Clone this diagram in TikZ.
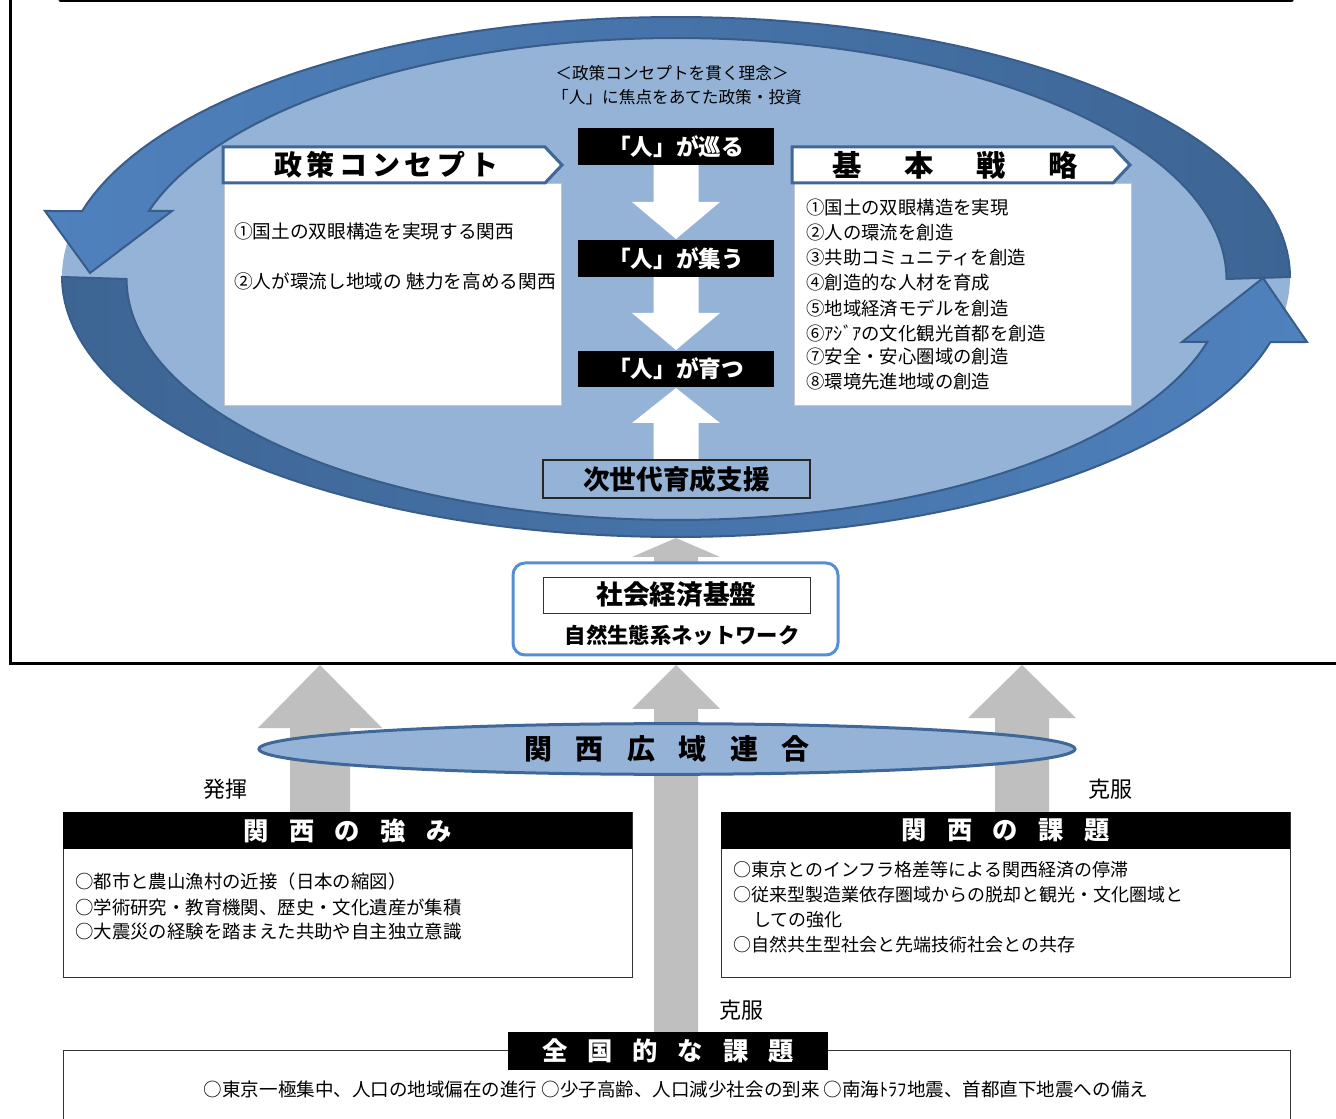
\documentclass[tikz,border=0pt]{standalone}
\usepackage{fontspec}
\setmainfont{Noto Sans CJK JP}
\usetikzlibrary{fit,shapes.geometric}
\definecolor{ellfill}{HTML}{95B3D7}
\definecolor{arcdark}{HTML}{3D6594}
\definecolor{arcmid}{HTML}{4F81BD}
\definecolor{arcline}{HTML}{385D8A}
\definecolor{hdrline}{HTML}{3F6797}
\definecolor{grayarr}{HTML}{BFBFBF}
\definecolor{rbox}{HTML}{558ED5}
\newcommand\varrow[7]{\fill[#1] ({#2-#6},#3) -- ({#2-#6},#5) -- ({#2-#7},#5) -- (#2,#4) -- ({#2+#7},#5) -- ({#2+#6},#5) -- ({#2+#6},#3) -- cycle;}
\tikzset{
  blk/.style={fill=black, inner sep=0pt},
  blktxt/.style={text=white, inner sep=0pt, font=\bfseries\fontsize{17}{20}\selectfont},
  hdrbar/.style={fill=black, inner sep=0pt},
  hdrtxt/.style={text=white, inner sep=0pt, font=\bfseries\fontsize{19}{22}\selectfont},
  bodytxt/.style={inner sep=0pt, anchor=west, font=\fontsize{13.8}{16}\selectfont},
  thinbox/.style={draw=black!80, line width=0.6pt, fill=white},
  lightbox/.style={draw=black!22, line width=0.6pt, fill=white, inner sep=0pt},
  arcband/.style={draw=arcline, line width=1.5pt},
  pentagon/.style={fill=white, draw=hdrline, line width=2.25pt},
  lbl/.style={inner sep=0pt, font=\fontsize{16.5}{19}\selectfont},
}
\begin{document}
\begin{tikzpicture}[x=0.75pt,y=-0.75pt]
\useasboundingbox (0,0) rectangle (1336,1119);
\fill[white] (0,0) rectangle (1336,1119);

% big ellipse fill
\fill[ellfill] (676,277) ellipse [x radius=460.5pt, y radius=195pt];

% top circular arrow (right tail -> left head)
\draw[arcband, left color=arcmid, right color=arcdark]
  plot[domain=0:165.3, samples=90] ({676+614*cos(\x)},{277-260*sin(\x)})
  -- (45,211) -- (90,273) -- (172,211)
  -- plot[domain=163.6:0, samples=90] ({676.5+550*cos(\x)},{279-241*sin(\x)}) -- cycle;
% bottom circular arrow (left tail -> right head)
\draw[arcband, left color=arcdark, right color=arcmid]
  plot[domain=180:345.5, samples=90] ({676+614*cos(\x)},{277-260*sin(\x)})
  -- (1307,342) -- (1263,278) -- (1182,342)
  -- plot[domain=344.9:180, samples=90] ({676.5+550*cos(\x)},{279-241*sin(\x)}) -- cycle;

% idea text
\node[inner sep=0pt, font=\fontsize{12.5}{15}\selectfont] (idea1) at (672,73) {＜政策コンセプトを貫く理念＞};
\node[inner sep=0pt, font=\fontsize{12.5}{15}\selectfont] (idea2) at (677,97) {「人」に焦点をあてた政策・投資};

% policy concept box
\node[lightbox, fit={(224,183) (561,405)}] (conbody) {};
\draw[pentagon] (223,147) -- (545,147) -- (562,165) -- (545,183) -- (223,183) -- cycle;
\node[inner sep=0pt, font=\bfseries\fontsize{21}{24}\selectfont] (conhdr) at (386,165)
  {政\hspace{3.5pt}策\hspace{3.5pt}コ\hspace{3.5pt}ン\hspace{3.5pt}セ\hspace{3.5pt}プ\hspace{3.5pt}ト};
\node[bodytxt, font=\fontsize{14}{16}\selectfont] (c1) at (234,231) {①国土の双眼構造を実現する関西};
\node[bodytxt, font=\fontsize{14}{16}\selectfont] (c2) at (234,281) {②人が環流し地域の 魅力を高める関西};

% basic strategy box
\node[lightbox, fit={(794,183) (1131,405)}] (strbody) {};
\draw[pentagon] (792,147) -- (1113,147) -- (1130,165) -- (1113,183) -- (792,183) -- cycle;
\node[inner sep=0pt, font=\bfseries\fontsize{22}{25}\selectfont] (strhdr) at (955,165)
  {基\hspace{32pt}本\hspace{32pt}戦\hspace{32pt}略};
\node[bodytxt] (s1) at (806,208) {①国土の双眼構造を実現};
\node[bodytxt] (s2) at (806,233) {②人の環流を創造};
\node[bodytxt] (s3) at (806,258) {③共助コミュニティを創造};
\node[bodytxt] (s4) at (806,283) {④創造的な人材を育成};
\node[bodytxt] (s5) at (806,308) {⑤地域経済モデルを創造};
\node[bodytxt] (s6) at (806,333) {⑥ｱｼﾞｱの文化観光首都を創造};
\node[bodytxt] (s7) at (806,357) {⑦安全・安心圏域の創造};
\node[bodytxt] (s8) at (806,382) {⑧環境先進地域の創造};

% central flow
\varrow{white}{676}{165}{239}{202}{22.5}{44}
\varrow{white}{676}{277}{350}{313}{22.5}{44}
\varrow{white}{676}{460}{388}{423}{22.5}{44}
\node[blk, fit={(578,128) (774,165)}] (b1) {};
\node[blktxt] (b1t) at (b1.center) {「人」が巡る};
\node[blk, fit={(578,240) (774,277)}] (b2) {};
\node[blktxt] (b2t) at (b2.center) {「人」が集う};
\node[blk, fit={(578,351) (774,387)}] (b3) {};
\node[blktxt] (b3t) at (b3.center) {「人」が育つ};
\node[fit={(543,460) (810,498)}, fill=ellfill, draw=black!85, line width=0.8pt, inner sep=0pt] (jisedai) {};
\node[inner sep=0pt, font=\bfseries\fontsize{20}{24}\selectfont] (jisedait) at (jisedai.center) {次世代育成支援};

% foundation
\varrow{grayarr}{676}{570}{538}{557}{22}{44}
\node[fit={(513,563) (838,655)}, draw=rbox, line width=2.25pt, fill=white, rounded corners=9pt, inner sep=0pt] (kiban) {};
\node[fit={(543,577) (810,613)}, thinbox, inner sep=0pt] (shakai) {};
\node[inner sep=0pt, font=\bfseries\fontsize{20}{24}\selectfont] (shakait) at (shakai.center) {社会経済基盤};
\node[inner sep=0pt, font=\bfseries\fontsize{16}{19}\selectfont] (shizen) at (682,635) {自然生態系ネットワーク};

% lower arrows
\varrow{grayarr}{320}{812}{665}{728}{30}{62}
\varrow{grayarr}{676}{1032}{665}{709}{22}{44}
\varrow{grayarr}{1022}{812}{665}{718}{27}{54}

% frame
\draw[line width=2.25pt] (10,0) -- (10,664) -- (1336,664);
\draw[line width=2.25pt, line cap=round] (60,1) -- (1292,1);

% Kansai union ellipse
\node[ellipse, minimum width=612pt, minimum height=38pt, inner sep=0pt, fill=ellfill, draw=hdrline, line width=2.25pt,
  font=\bfseries\fontsize{21}{24}\selectfont] (rengo) at (667,749)
  {関\hspace{17.7pt}西\hspace{17.7pt}広\hspace{17.7pt}域\hspace{17.7pt}連\hspace{17.7pt}合};

\node[lbl] (hakki) at (225,789) {発揮};
\node[lbl] (kokufuku1) at (1110,789) {克服};
\node[lbl] (kokufuku2) at (741,1010) {克服};

% strengths box
\node[thinbox, inner sep=0pt, fit={(63,812) (632,977)}] (strong) {};
\node[hdrbar, fit={(63,812) (632,849)}] (stronghdr) {};
\node[hdrtxt] (stronghdrt) at (stronghdr.center) {関\hspace{15.3pt}西\hspace{15.3pt}の\hspace{15.3pt}強\hspace{15.3pt}み};
\node[bodytxt] (k1) at (75,882) {○都市と農山漁村の近接（日本の縮図）};
\node[bodytxt] (k2) at (75,907) {○学術研究・教育機関、歴史・文化遺産が集積};
\node[bodytxt] (k3) at (75,932) {○大震災の経験を踏まえた共助や自主独立意識};

% issues box
\node[thinbox, inner sep=0pt, fit={(721,812) (1290,977)}] (issue) {};
\node[hdrbar, fit={(721,812) (1290,849)}] (issuehdr) {};
\node[hdrtxt] (issuehdrt) at (issuehdr.center) {関\hspace{15.3pt}西\hspace{15.3pt}の\hspace{15.3pt}課\hspace{15.3pt}題};
\node[bodytxt, font=\fontsize{13.5}{16}\selectfont] (i1) at (733,870) {○東京とのインフラ格差等による関西経済の停滞};
\node[bodytxt, font=\fontsize{13.5}{16}\selectfont] (i2) at (733,895) {○従来型製造業依存圏域からの脱却と観光・文化圏域と};
\node[bodytxt, font=\fontsize{13.5}{16}\selectfont] (i3) at (753,920) {しての強化};
\node[bodytxt, font=\fontsize{13.5}{16}\selectfont] (i4) at (733,945) {○自然共生型社会と先端技術社会との共存};

% national issues
\draw[line width=0.6pt, draw=black!80] (63,1125) -- (63,1050) -- (1290,1050) -- (1290,1125);
\node[hdrbar, fit={(508,1032) (828,1070)}] (nathdr) {};
\node[hdrtxt] (nathdrt) at (nathdr.center) {全\hspace{15pt}国\hspace{15pt}的\hspace{15pt}な\hspace{15pt}課\hspace{15pt}題};
\node[inner sep=0pt, font=\fontsize{13.9}{16}\selectfont] (nat) at (676,1089)
  {○東京一極集中、人口の地域偏在の進行 ○少子高齢、人口減少社会の到来 ○南海ﾄﾗﾌ地震、首都直下地震への備え};
\end{tikzpicture}
\end{document}
